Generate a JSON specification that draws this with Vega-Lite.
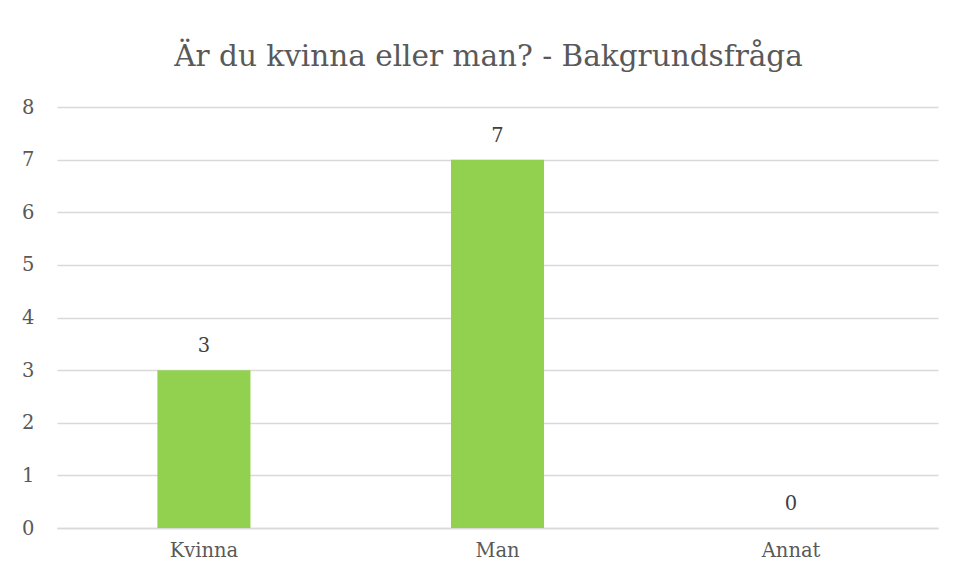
{
  "$schema": "https://vega.github.io/schema/vega-lite/v6.json",
  "autosize": "none",
  "width": 881,
  "height": 421,
  "padding": {"left": 57, "top": 107, "right": 17, "bottom": 51},
  "background": "white",
  "config": {
    "font": "DejaVu Serif",
    "view": {"stroke": null}
  },
  "title": {
    "text": "Är du kvinna eller man? - Bakgrundsfråga",
    "font": "DejaVu Serif",
    "fontSize": 29.5,
    "fontWeight": "normal",
    "color": "#595959",
    "anchor": "middle",
    "offset": 25,
    "dx": -9
  },
  "data": {
    "values": [
      {"kategori": "Kvinna", "antal": 3},
      {"kategori": "Man", "antal": 7},
      {"kategori": "Annat", "antal": 0}
    ]
  },
  "encoding": {
    "x": {
      "field": "kategori",
      "type": "nominal",
      "sort": null,
      "scale": {"paddingInner": 0.683, "paddingOuter": 0.342},
      "axis": {
        "title": null,
        "labelAngle": 0,
        "labelFont": "DejaVu Serif",
        "labelFontSize": 19.5,
        "labelColor": "#595959",
        "labelPadding": 13,
        "ticks": false,
        "domainColor": "#D9D9D9",
        "domainWidth": 1.5
      }
    },
    "y": {
      "field": "antal",
      "type": "quantitative",
      "scale": {"domain": [0, 8]},
      "axis": {
        "title": null,
        "tickCount": 8,
        "labelFont": "DejaVu Serif",
        "labelFontSize": 19.5,
        "labelColor": "#595959",
        "labelPadding": 23,
        "ticks": false,
        "domain": false,
        "gridColor": "#D9D9D9",
        "gridWidth": 1.5
      }
    }
  },
  "layer": [
    {"mark": {"type": "bar", "color": "#92D050"}},
    {
      "mark": {
        "type": "text",
        "baseline": "bottom",
        "dy": -14,
        "font": "DejaVu Serif",
        "fontSize": 19.5,
        "color": "#404040"
      },
      "encoding": {"text": {"field": "antal", "type": "quantitative"}}
    }
  ]
}
